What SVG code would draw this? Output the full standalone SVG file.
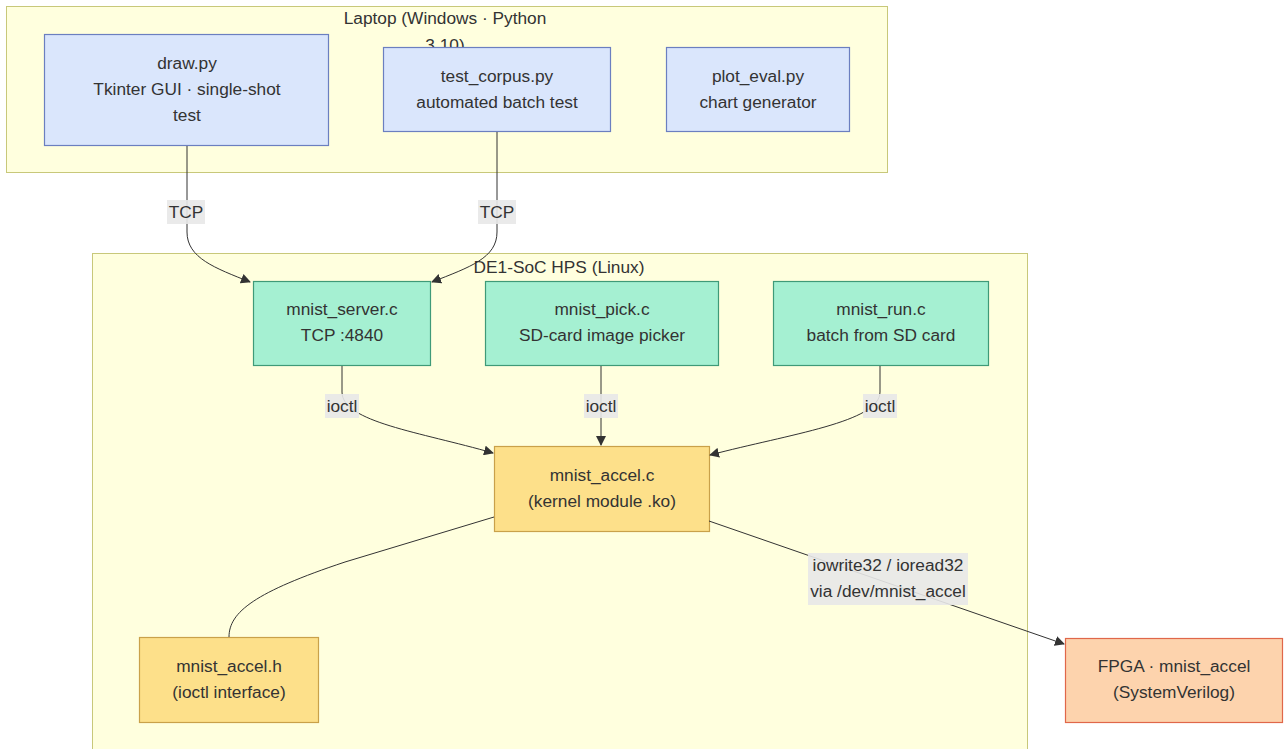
<svg xmlns="http://www.w3.org/2000/svg" width="1285" height="749" viewBox="0 0 1285 749">
  <defs>
    <marker id="arrow" viewBox="0 0 10 10" refX="9" refY="5" markerWidth="10" markerHeight="10" markerUnits="userSpaceOnUse" orient="auto">
      <path d="M0,0 L10,5 L0,10 z" fill="#333333"/>
    </marker>
    <style>
      text { font-family: "Liberation Sans", Arial, sans-serif; font-size: 17.3px; fill: #333333; text-anchor: middle; }
      .cluster { fill: #ffffde; stroke: #c8c87a; stroke-width: 1; }
      .laptop rect { fill: #dae6fc; stroke: #6b7fc0; stroke-width: 1.2; }
      .hps rect { fill: #a5f0d2; stroke: #3f9a78; stroke-width: 1.2; }
      .kern rect { fill: #fde08a; stroke: #c9a14a; stroke-width: 1.2; }
      .fpga rect { fill: #fdd3ad; stroke: #e0674a; stroke-width: 1.2; }
      .edge { fill: none; stroke: #333333; stroke-width: 1; }
      .lbl { fill: #e8e8e8; opacity: 0.9; }
    </style>
  </defs>

  <rect width="1285" height="749" fill="#ffffff"/>

  <!-- clusters -->
  <g id="cluster-laptop">
    <rect class="cluster" x="6.5" y="6.5" width="881" height="166"/>
    <text x="445" y="24">Laptop (Windows · Python</text>
    <text x="445" y="51">3.10)</text>
  </g>
  <g id="cluster-hps">
    <rect class="cluster" x="92.5" y="253.5" width="935" height="500"/>
    <text x="559" y="273">DE1-SoC HPS (Linux)</text>
  </g>

  <!-- laptop nodes -->
  <g id="draw" class="laptop">
    <rect x="44.5" y="34.5" width="284" height="111"/>
    <text x="187" y="69">draw.py</text>
    <text x="187" y="95">Tkinter GUI · single-shot</text>
    <text x="187" y="121">test</text>
  </g>
  <g id="test_corpus" class="laptop">
    <rect x="383.5" y="47.5" width="227" height="84"/>
    <text x="497" y="82">test_corpus.py</text>
    <text x="497" y="108">automated batch test</text>
  </g>
  <g id="plot_eval" class="laptop">
    <rect x="666.5" y="47.5" width="183" height="84"/>
    <text x="758" y="82">plot_eval.py</text>
    <text x="758" y="108">chart generator</text>
  </g>

  <!-- HPS nodes -->
  <g id="mnist_server" class="hps">
    <rect x="253.5" y="281.5" width="177" height="84"/>
    <text x="342" y="315">mnist_server.c</text>
    <text x="342" y="341">TCP :4840</text>
  </g>
  <g id="mnist_pick" class="hps">
    <rect x="485.5" y="281.5" width="233" height="84"/>
    <text x="602" y="315">mnist_pick.c</text>
    <text x="602" y="341">SD-card image picker</text>
  </g>
  <g id="mnist_run" class="hps">
    <rect x="773.5" y="281.5" width="215" height="84"/>
    <text x="881" y="315">mnist_run.c</text>
    <text x="881" y="341">batch from SD card</text>
  </g>
  <g id="mnist_accel_c" class="kern">
    <rect x="494.5" y="446.5" width="215" height="85"/>
    <text x="602" y="481">mnist_accel.c</text>
    <text x="602" y="507">(kernel module .ko)</text>
  </g>
  <g id="mnist_accel_h" class="kern">
    <rect x="139.5" y="637.5" width="179" height="85"/>
    <text x="229" y="672">mnist_accel.h</text>
    <text x="229" y="698">(ioctl interface)</text>
  </g>
  <g id="fpga" class="fpga">
    <rect x="1065.5" y="638.5" width="217" height="84"/>
    <text x="1174" y="672">FPGA · mnist_accel</text>
    <text x="1174" y="698">(SystemVerilog)</text>
  </g>

  <!-- connectors -->
  <g id="edges">
    <path class="edge" d="M187,146 V232 C187,258 215,268 250,282" marker-end="url(#arrow)"/>
    <path class="edge" d="M497,132 V232 C497,258 470,267 432,282" marker-end="url(#arrow)"/>
    <path class="edge" d="M342,366 V392 C342,422 420,432 493,453" marker-end="url(#arrow)"/>
    <path class="edge" d="M601,366 V445" marker-end="url(#arrow)"/>
    <path class="edge" d="M880,366 V392 C880,422 790,434 710,455" marker-end="url(#arrow)"/>
    <path class="edge" d="M494,517 L345,562 C255,592 229,612 229,637"/>
    <path class="edge" d="M709,521 L1064,644" marker-end="url(#arrow)"/>

    <rect class="lbl" x="167" y="200" width="38" height="24"/>
    <text x="186" y="218">TCP</text>
    <rect class="lbl" x="478" y="200" width="38" height="24"/>
    <text x="497" y="218">TCP</text>
    <rect class="lbl" x="325" y="394" width="34" height="24"/>
    <text x="342" y="412">ioctl</text>
    <rect class="lbl" x="584" y="394" width="34" height="24"/>
    <text x="601" y="412">ioctl</text>
    <rect class="lbl" x="863" y="394" width="34" height="24"/>
    <text x="880" y="412">ioctl</text>
    <rect class="lbl" x="808" y="553" width="160" height="52"/>
    <text x="888" y="571">iowrite32 / ioread32</text>
    <text x="888" y="597">via /dev/mnist_accel</text>
  </g>
</svg>
